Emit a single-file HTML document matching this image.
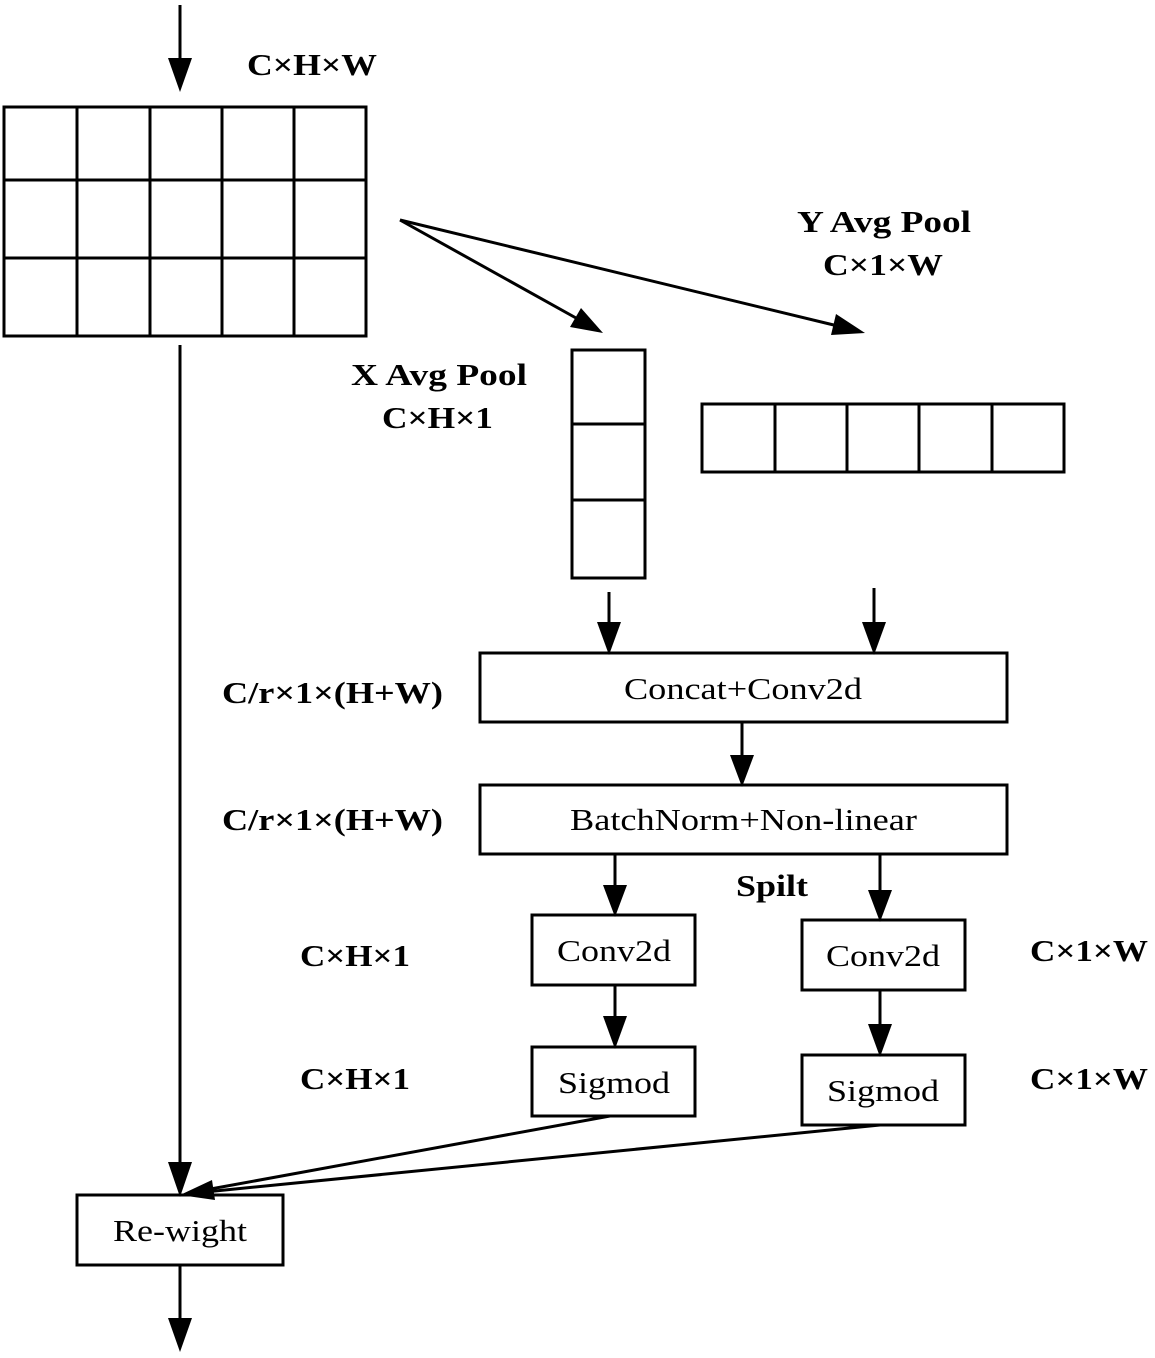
<!DOCTYPE html>
<html><head><meta charset="utf-8"><style>
html,body{margin:0;padding:0;background:#fff;}
svg{display:block;}
.b{font-family:"Liberation Serif",serif;font-weight:bold;font-size:31px;fill:#000;}
.n{font-family:"Liberation Serif",serif;font-size:31px;fill:#000;}
</style></head><body>
<svg width="1155" height="1358" viewBox="0 0 1155 1358" xmlns="http://www.w3.org/2000/svg">
<g stroke="#000" stroke-width="3" fill="none">
<rect x="4" y="107" width="362" height="229"/>
<line x1="77" y1="107" x2="77" y2="336"/><line x1="150" y1="107" x2="150" y2="336"/>
<line x1="222" y1="107" x2="222" y2="336"/><line x1="294" y1="107" x2="294" y2="336"/>
<line x1="4" y1="180" x2="366" y2="180"/><line x1="4" y1="258" x2="366" y2="258"/>
<rect x="572" y="350" width="73" height="228"/>
<line x1="572" y1="424" x2="645" y2="424"/><line x1="572" y1="500" x2="645" y2="500"/>
<rect x="702" y="404" width="362" height="68"/>
<line x1="775" y1="404" x2="775" y2="472"/><line x1="847" y1="404" x2="847" y2="472"/>
<line x1="919" y1="404" x2="919" y2="472"/><line x1="992" y1="404" x2="992" y2="472"/>
<rect x="480" y="653" width="527" height="69"/>
<rect x="480" y="785" width="527" height="69"/>
<rect x="532" y="915" width="163" height="70"/>
<rect x="802" y="920" width="163" height="70"/>
<rect x="532" y="1047" width="163" height="69"/>
<rect x="802" y="1055" width="163" height="70"/>
<rect x="77" y="1195" width="206" height="70"/>
<line x1="180" y1="5" x2="180" y2="62"/>
<line x1="400" y1="220" x2="585" y2="323"/>
<line x1="400" y1="220" x2="842" y2="327"/>
<line x1="609" y1="592" x2="609" y2="625"/>
<line x1="874" y1="588" x2="874" y2="625"/>
<line x1="742" y1="722" x2="742" y2="758"/>
<line x1="615" y1="854" x2="615" y2="888"/>
<line x1="880" y1="854" x2="880" y2="893"/>
<line x1="615" y1="985" x2="615" y2="1020"/>
<line x1="880" y1="990" x2="880" y2="1028"/>
<line x1="180" y1="345" x2="180" y2="1168"/>
<line x1="610" y1="1116" x2="205" y2="1190"/>
<line x1="880" y1="1125" x2="205" y2="1192"/>
<line x1="180" y1="1265" x2="180" y2="1322"/>
</g>
<g fill="#000">
<polygon points="168,58 192,58 180,92"/>
<polygon points="603,333 570,327 581,308"/>
<polygon points="865,333 831,335 836,314"/>
<polygon points="597,622 621,622 609,655"/>
<polygon points="862,622 886,622 874,655"/>
<polygon points="730,755 754,755 742,787"/>
<polygon points="603,885 627,885 615,917"/>
<polygon points="868,890 892,890 880,922"/>
<polygon points="603,1016 627,1016 615,1049"/>
<polygon points="868,1024 892,1024 880,1057"/>
<polygon points="168,1162 192,1162 180,1197"/>
<polygon points="180,1195 212,1180 215,1200"/>
<polygon points="168,1318 192,1318 180,1352"/>
</g>
<text class="b" x="247" y="75" textLength="130" lengthAdjust="spacingAndGlyphs">C×H×W</text>
<text class="b" x="797" y="232" textLength="174" lengthAdjust="spacingAndGlyphs">Y Avg Pool</text>
<text class="b" x="823" y="275" textLength="120" lengthAdjust="spacingAndGlyphs">C×1×W</text>
<text class="b" x="351" y="385" textLength="176" lengthAdjust="spacingAndGlyphs">X Avg Pool</text>
<text class="b" x="382" y="428" textLength="111" lengthAdjust="spacingAndGlyphs">C×H×1</text>
<text class="n" x="624" y="699" textLength="238" lengthAdjust="spacingAndGlyphs">Concat+Conv2d</text>
<text class="n" x="570" y="830" textLength="347" lengthAdjust="spacingAndGlyphs">BatchNorm+Non-linear</text>
<text class="b" x="222" y="703" textLength="221" lengthAdjust="spacingAndGlyphs">C/r×1×(H+W)</text>
<text class="b" x="222" y="830" textLength="221" lengthAdjust="spacingAndGlyphs">C/r×1×(H+W)</text>
<text class="b" x="736" y="896" textLength="72" lengthAdjust="spacingAndGlyphs">Spilt</text>
<text class="n" x="557" y="961" textLength="114" lengthAdjust="spacingAndGlyphs">Conv2d</text>
<text class="n" x="826" y="966" textLength="114" lengthAdjust="spacingAndGlyphs">Conv2d</text>
<text class="n" x="558" y="1093" textLength="112" lengthAdjust="spacingAndGlyphs">Sigmod</text>
<text class="n" x="827" y="1101" textLength="112" lengthAdjust="spacingAndGlyphs">Sigmod</text>
<text class="b" x="300" y="966" textLength="110" lengthAdjust="spacingAndGlyphs">C×H×1</text>
<text class="b" x="300" y="1089" textLength="110" lengthAdjust="spacingAndGlyphs">C×H×1</text>
<text class="b" x="1030" y="961" textLength="118" lengthAdjust="spacingAndGlyphs">C×1×W</text>
<text class="b" x="1030" y="1089" textLength="118" lengthAdjust="spacingAndGlyphs">C×1×W</text>
<text class="n" x="113" y="1241" textLength="134" lengthAdjust="spacingAndGlyphs">Re-wight</text>
</svg>
</body></html>
